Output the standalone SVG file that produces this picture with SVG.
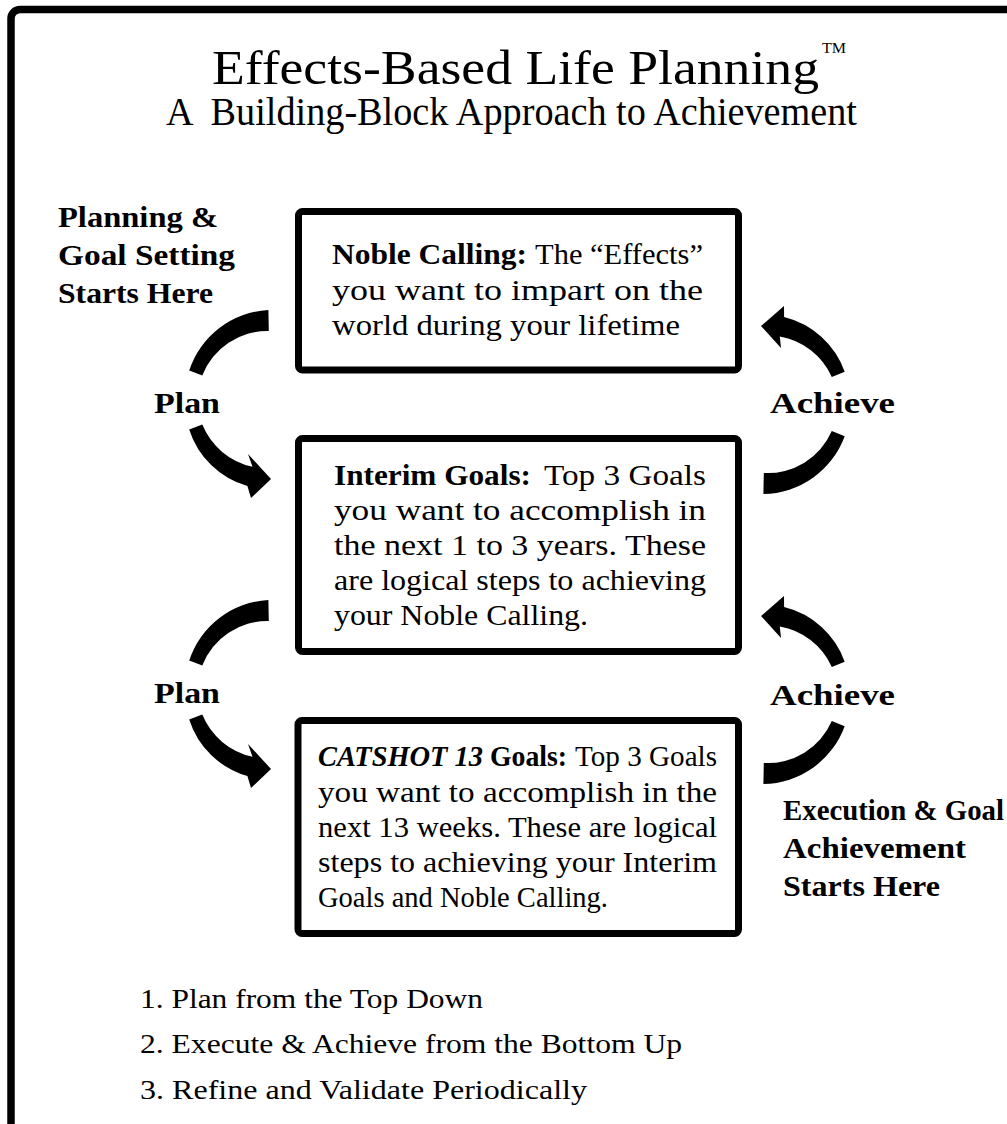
<svg xmlns="http://www.w3.org/2000/svg" xmlns:xlink="http://www.w3.org/1999/xlink" width="1007" height="1124" viewBox="0 0 1007 1124">
  <style>
    text { font-family: "Liberation Serif", "Times New Roman", serif; fill: #000; }
    .box { fill: #fff; stroke: #000; stroke-width: 7; }
    .body { font-size: 29px; }
    .b { font-weight: bold; }
    .bi { font-weight: bold; font-style: italic; }
    .lbl { font-size: 29px; font-weight: bold; }
    .list { font-size: 27px; }
    .arc { fill: #000; }
  </style>
  <defs>
    <path id="arcLeftTop" d="M 268.4 310 A 88 88 0 0 0 189.2 370.6 L 202.3 375.4 A 70 70 0 0 1 268.8 331 Z"/>
    <path id="arcLeftBottom" d="M 189.2 429.4 A 86 86 0 0 0 247.4 486.1 L 251 498 L 271 479 L 248 454 L 252.5 466.7 A 70 70 0 0 1 202.3 424.6 Z"/>
    <path id="arcRightTop" d="M 844.7 371.8 A 86 86 0 0 0 784.1 317.1 L 784 306 L 761 326 L 781 348 L 779.8 336.6 A 70 70 0 0 1 831.8 377 Z"/>
    <path id="arcRightBottom" d="M 844.7 436.2 A 88 88 0 0 1 763.4 494 L 763.8 473 A 70 70 0 0 0 831.8 431 Z"/>
  </defs>

  <rect width="1007" height="1124" fill="#fff"/>
  <rect id="frame" x="11" y="9.5" width="1100" height="1200" rx="9" fill="none" stroke="#000" stroke-width="7.5"/>

  <g id="title">
    <text x="212" y="84" font-size="48" textLength="607" lengthAdjust="spacingAndGlyphs">Effects-Based Life Planning</text>
    <text x="822" y="53" font-size="15" textLength="24" lengthAdjust="spacingAndGlyphs">TM</text>
    <text x="166" y="125" font-size="39" textLength="691" lengthAdjust="spacingAndGlyphs" xml:space="preserve">A  Building-Block Approach to Achievement</text>
  </g>

  <g id="connectors">
    <use xlink:href="#arcLeftTop" class="arc"/>
    <use xlink:href="#arcLeftBottom" class="arc"/>
    <use xlink:href="#arcRightTop" class="arc"/>
    <use xlink:href="#arcRightBottom" class="arc"/>
    <use xlink:href="#arcLeftTop" class="arc" transform="translate(0,290)"/>
    <use xlink:href="#arcLeftBottom" class="arc" transform="translate(0,290)"/>
    <use xlink:href="#arcRightTop" class="arc" transform="translate(0,290)"/>
    <use xlink:href="#arcRightBottom" class="arc" transform="translate(0,290)"/>
  </g>

  <g id="node-noble-calling">
    <rect class="box" x="298.5" y="211.5" width="440" height="158.5" rx="4"/>
    <text class="body b" x="332" y="264" textLength="195" lengthAdjust="spacingAndGlyphs">Noble Calling:</text>
    <text class="body" x="535" y="264" textLength="168" lengthAdjust="spacingAndGlyphs">The “Effects”</text>
    <text class="body" x="332" y="300" textLength="371" lengthAdjust="spacingAndGlyphs">you want to impart on the</text>
    <text class="body" x="332" y="335" textLength="348" lengthAdjust="spacingAndGlyphs">world during your lifetime</text>
  </g>

  <g id="node-interim-goals">
    <rect class="box" x="298.5" y="438.5" width="440" height="213" rx="4"/>
    <text class="body b" x="334" y="485" textLength="197" lengthAdjust="spacingAndGlyphs">Interim Goals:</text>
    <text class="body" x="544" y="485" textLength="162" lengthAdjust="spacingAndGlyphs">Top 3 Goals</text>
    <text class="body" x="334" y="520" textLength="372" lengthAdjust="spacingAndGlyphs">you want to accomplish in</text>
    <text class="body" x="334" y="555" textLength="372" lengthAdjust="spacingAndGlyphs">the next 1 to 3 years. These</text>
    <text class="body" x="334" y="590" textLength="372" lengthAdjust="spacingAndGlyphs">are logical steps to achieving</text>
    <text class="body" x="334" y="625" textLength="254" lengthAdjust="spacingAndGlyphs">your Noble Calling.</text>
  </g>

  <g id="node-catshot-goals">
    <rect class="box" x="298" y="720.5" width="440.5" height="213" rx="4"/>
    <text class="body bi" x="318" y="766" textLength="165" lengthAdjust="spacingAndGlyphs">CATSHOT 13</text>
    <text class="body b" x="490" y="766" textLength="77" lengthAdjust="spacingAndGlyphs">Goals:</text>
    <text class="body" x="575" y="766" textLength="142" lengthAdjust="spacingAndGlyphs">Top 3 Goals</text>
    <text class="body" x="318" y="802" textLength="399" lengthAdjust="spacingAndGlyphs">you want to accomplish in the</text>
    <text class="body" x="318" y="837" textLength="399" lengthAdjust="spacingAndGlyphs">next 13 weeks. These are logical</text>
    <text class="body" x="318" y="872" textLength="399" lengthAdjust="spacingAndGlyphs">steps to achieving your Interim</text>
    <text class="body" x="318" y="907" textLength="290" lengthAdjust="spacingAndGlyphs">Goals and Noble Calling.</text>
  </g>

  <g id="labels">
    <text class="lbl" x="58" y="227" textLength="160" lengthAdjust="spacingAndGlyphs">Planning &amp;</text>
    <text class="lbl" x="58" y="265" textLength="177" lengthAdjust="spacingAndGlyphs">Goal Setting</text>
    <text class="lbl" x="58" y="303" textLength="155" lengthAdjust="spacingAndGlyphs">Starts Here</text>
    <text class="lbl" x="154" y="413" textLength="66" lengthAdjust="spacingAndGlyphs">Plan</text>
    <text class="lbl" x="770" y="413" textLength="125" lengthAdjust="spacingAndGlyphs">Achieve</text>
    <text class="lbl" x="154" y="703" textLength="66" lengthAdjust="spacingAndGlyphs">Plan</text>
    <text class="lbl" x="770" y="705" textLength="125" lengthAdjust="spacingAndGlyphs">Achieve</text>
    <text class="lbl" x="783" y="820" textLength="221" lengthAdjust="spacingAndGlyphs">Execution &amp; Goal</text>
    <text class="lbl" x="783" y="858" textLength="183" lengthAdjust="spacingAndGlyphs">Achievement</text>
    <text class="lbl" x="783" y="896" textLength="157" lengthAdjust="spacingAndGlyphs">Starts Here</text>
  </g>

  <g id="list">
    <text class="list" x="140" y="1008" textLength="343" lengthAdjust="spacingAndGlyphs">1. Plan from the Top Down</text>
    <text class="list" x="140" y="1053" textLength="542" lengthAdjust="spacingAndGlyphs">2. Execute &amp; Achieve from the Bottom Up</text>
    <text class="list" x="140" y="1099" textLength="447" lengthAdjust="spacingAndGlyphs">3. Refine and Validate Periodically</text>
  </g>
</svg>
